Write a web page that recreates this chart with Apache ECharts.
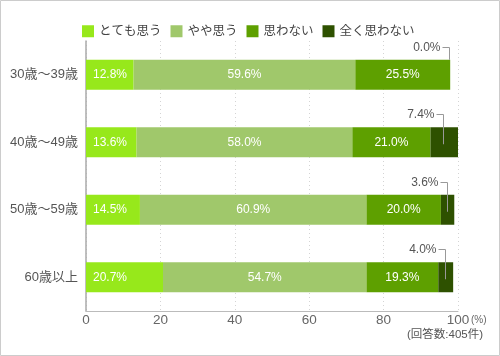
<!DOCTYPE html>
<html><head><meta charset="utf-8">
<script src="https://cdn.jsdelivr.net/npm/echarts@6/dist/echarts.min.js"></script>
<style>html,body{margin:0;padding:0;background:#fff}#c{width:500px;height:356px}</style>
</head><body><div id="c"></div>
<script>
var categories = ['30歳〜39歳','40歳〜49歳','50歳〜59歳','60歳以上'];
var seriesNames = ['とても思う','やや思う','思わない','全く思わない'];
var veryMuch = [12.8, 13.6, 14.5, 20.7];
var somewhat = [59.6, 58.0, 60.9, 54.7];
var notThink = [25.5, 21.0, 20.0, 19.3];
var notAtAll = [0.0, 7.4, 3.6, 4.0];
var xTicks = [0, 20, 40, 60, 80, 100];
var colors = ['#97e81b','#a0c86b','#5ea000','#2e5100'];
var FONT = "'Liberation Sans','Noto Sans CJK JP',sans-serif";

var chart = echarts.init(document.getElementById('c'));
function fmt(p){ return p.value.toFixed(1) + '%'; }
var calloutData = categories.map(function(c, i){
  var sum = veryMuch[i] + somewhat[i] + notThink[i] + notAtAll[i];
  return [sum - notAtAll[i] / 2, i, notAtAll[i]];
});
function barSeries(name, data, color, pos, dist){
  return {
    name: name, type: 'bar', stack: 'total', data: data, barWidth: 30,
    itemStyle: { color: color },
    label: { show: pos !== null, position: pos || 'inside', distance: dist || 5,
      color: '#fff', fontSize: 12, fontFamily: FONT, formatter: fmt },
    emphasis: { disabled: true }, animation: false
  };
}
var option = {
  animation: false,
  textStyle: { fontFamily: FONT },
  legend: {
    top: 20, left: 77, itemWidth: 12, itemHeight: 12, itemGap: 9, icon: 'rect',
    textStyle: { fontSize: 12.5, color: '#444', fontFamily: FONT },
    data: seriesNames
  },
  grid: { left: 86, right: 42, top: 41, bottom: 45, containLabel: false },
  xAxis: {
    type: 'value', min: 0, max: 100, interval: 20,
    axisLine: { show: true, lineStyle: { color: '#bbb', width: 1 } },
    axisTick: { show: false },
    axisLabel: { fontSize: 13.5, color: '#666', margin: 3, fontFamily: FONT,
      formatter: function(v){ return xTicks.indexOf(v) >= 0 ? String(v) : ''; } },
    splitLine: { show: true, lineStyle: { color: '#d4d4d4', type: [1, 3] } }
  },
  yAxis: {
    type: 'category', data: categories, inverse: true,
    axisLine: { show: true, lineStyle: { color: '#aaa', width: 1.5 } },
    axisTick: { show: false },
    axisLabel: { fontSize: 13, color: '#555', margin: 8, fontFamily: FONT }
  },
  series: [
    barSeries(seriesNames[0], veryMuch, colors[0], 'insideLeft', 7),
    barSeries(seriesNames[1], somewhat, colors[1], 'inside'),
    barSeries(seriesNames[2], notThink, colors[2], 'inside'),
    barSeries(seriesNames[3], notAtAll, colors[3], null),
    {
      type: 'custom', data: calloutData, encode: { x: 0, y: 1 }, z: 5, silent: true,
      renderItem: function(params, api){
        var p = api.coord([api.value(0), api.value(1)]);
        var v = api.value(2);
        var xc = Math.round(p[0]) - 0.5, yc = p[1];
        var ty = Math.round(yc - 28) + 0.5;
        var yEnd = v === 0 ? yc - 15 : yc + 2;
        return { type: 'group', children: [
          { type: 'polyline', shape: { points: [[xc - 7, ty], [xc, ty], [xc, yEnd]] },
            style: { stroke: '#999', lineWidth: 1, fill: null } },
          { type: 'text', style: { x: xc - 9, y: ty, text: v.toFixed(1) + '%',
            align: 'right', verticalAlign: 'middle', fontSize: 12, fill: '#555', fontFamily: FONT } }
        ]};
      }
    }
  ],
  graphic: [
    { type: 'rect', shape: { x: 0.5, y: 0.5, width: 499, height: 355 },
      style: { fill: null, stroke: '#ccc', lineWidth: 1 }, silent: true },
    { type: 'text', left: 471, top: 315, style: { text: '(%)', fontSize: 10, fill: '#666', fontFamily: FONT } },
    { type: 'text', right: 17, top: 329, style: { text: '(回答数:405件)', fontSize: 11.5, fill: '#555', fontFamily: FONT } }
  ]
};
chart.setOption(option);
</script>
</body></html>
